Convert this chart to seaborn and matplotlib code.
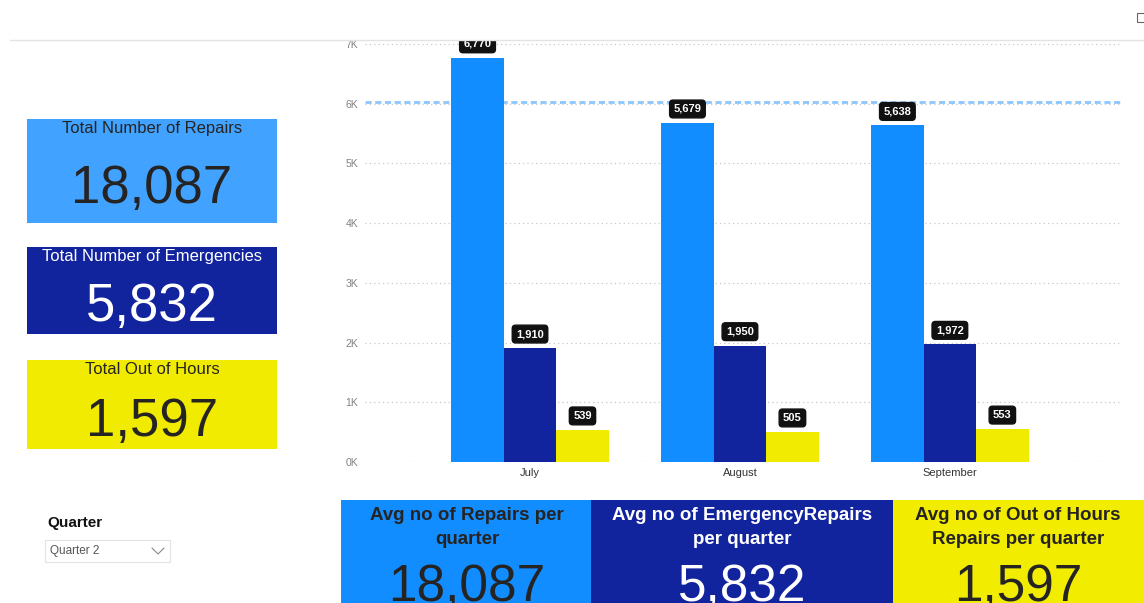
import matplotlib
matplotlib.use("Agg")
import matplotlib.pyplot as plt
from matplotlib.patches import Rectangle
from matplotlib.lines import Line2D
import seaborn as sns
import pandas as pd

# ---- data ----
months = ["July", "August", "September"]
series = ["Repairs", "Emergencies", "Out of Hours"]
repairs = [6770, 5679, 5638]
emergencies = [1910, 1950, 1972]
out_of_hours = [539, 505, 553]
y_ticks = [0, 1000, 2000, 3000, 4000, 5000, 6000, 7000]
y_tick_labels = ["0K", "1K", "2K", "3K", "4K", "5K", "6K", "7K"]

kpi_titles = ["Total Number of Repairs", "Total Number of Emergencies", "Total Out of Hours"]
kpi_values = ["18,087", "5,832", "1,597"]
avg_titles = ["Avg no of Repairs per\nquarter", "Avg no of EmergencyRepairs\nper quarter",
              "Avg no of Out of Hours\nRepairs per quarter"]
avg_values = ["18,087", "5,832", "1,597"]
slicer_title = "Quarter"
slicer_value = "Quarter 2"

C_BLUE = "#118DFF"
C_LBLUE = "#41A2FF"
C_DARK = "#12239E"
C_YEL = "#F0EB00"

sns.set_theme(style="white")
plt.rcParams["font.family"] = ["Liberation Sans", "DejaVu Sans"]

W, H = 1144, 603
fig = plt.figure(figsize=(W / 100, H / 100), dpi=100)
fig.patch.set_facecolor("white")


def fx(x):
    return x / W


def fy(y):
    return 1 - y / H


# ---- main chart ----
ax_l, ax_r, ax_t, ax_b = 365, 1122, 41, 462
ax = fig.add_axes([fx(ax_l), fy(ax_b), (ax_r - ax_l) / W, (ax_b - ax_t) / H])

df = pd.DataFrame({
    "Month": months * 3,
    "Type": [series[0]] * 3 + [series[1]] * 3 + [series[2]] * 3,
    "Value": repairs + emergencies + out_of_hours,
})
sns.barplot(data=df, x="Month", y="Value", hue="Type", order=months, hue_order=series,
            palette=[C_BLUE, C_DARK, C_YEL], saturation=1, width=0.75, legend=False,
            ax=ax, errorbar=None, linewidth=0, zorder=3)

ax.set_xlim(-0.786, 2.82)
ax.set_ylim(0, 7050)
ax.set_yticks(y_ticks)
ax.set_yticklabels(y_tick_labels)
ax.set_xlabel("")
ax.set_ylabel("")
for s in ax.spines.values():
    s.set_visible(False)
ax.tick_params(axis="y", length=0, pad=5, labelsize=7.5, labelcolor="#808080")
ax.tick_params(axis="x", length=0, pad=4, labelsize=8, labelcolor="#333333")
ax.yaxis.grid(True, linestyle=(0, (1, 2.5)), color="#c8c8c8", linewidth=0.9)
ax.set_axisbelow(True)
ax.set_facecolor("white")

# average line
avg_line = sum(repairs) / len(repairs)
ax.axhline(avg_line, color="#8CC6FF", linewidth=2.0, linestyle=(0, (2.2, 1.3)), zorder=2)

# data labels
all_vals = [repairs, emergencies, out_of_hours]
for cont, vals in zip(ax.containers, all_vals):
    for bar, v in zip(cont, vals):
        ax.annotate(f"{v:,}", (bar.get_x() + bar.get_width() / 2, bar.get_height()),
                    xytext=(0, 10), textcoords="offset points", ha="center", va="center",
                    fontsize=8, color="white", fontweight="bold", annotation_clip=False,
                    zorder=5,
                    bbox=dict(boxstyle="round,pad=0.35,rounding_size=0.3", fc="#111111", ec="#111111"))

# top white band and separator line
fig.patches.append(Rectangle((0, fy(40)), 1, 1 - fy(40), transform=fig.transFigure,
                             facecolor="white", edgecolor="none", zorder=10))
fig.add_artist(Line2D([fx(10), 1], [fy(40), fy(40)], color="#e3e3e3", linewidth=1, zorder=11))

# ---- left KPI cards ----
cards = [
    (119, 223, C_LBLUE, "#252423", 129, 189),
    (247, 334, C_DARK, "white", 257, 307),
    (360, 449, C_YEL, "#252423", 370, 422),
]
for (top, bot, col, tcol, ty, vy), title, val in zip(cards, kpi_titles, kpi_values):
    fig.patches.append(Rectangle((fx(27), fy(bot)), (277 - 27) / W, (bot - top) / H,
                                 transform=fig.transFigure, facecolor=col, edgecolor="none", zorder=1))
    fig.text(fx(152), fy(ty), title, ha="center", va="center", fontsize=12, color=tcol, zorder=2)
    fig.text(fx(152), fy(vy), val, ha="center", va="center", fontsize=38, color=tcol, zorder=2)

# ---- bottom cards ----
bcards = [(341, 591, C_BLUE, "#252423", 467), (591, 893, C_DARK, "white", 742),
          (893, 1144, "#F2EC00", "#252423", 1018)]
for (l, r, col, tcol, cx), title, val in zip(bcards, avg_titles, avg_values):
    fig.patches.append(Rectangle((fx(l), 0), (r - l) / W, fy(500), transform=fig.transFigure,
                                 facecolor=col, edgecolor="none", zorder=1))
    fig.text(fx(cx), fy(527.5), title, ha="center", va="center", fontsize=13.5,
             fontweight="bold", color=tcol, linespacing=1.55, zorder=2)
    fig.text(fx(cx), fy(601), val, ha="center", va="baseline", fontsize=37, color=tcol, zorder=2)

# ---- slicer ----
fig.text(fx(47), fy(523), slicer_title, ha="left", va="center", fontsize=11,
         fontweight="bold", color="#111111")
fig.patches.append(Rectangle((fx(45), fy(562)), (170 - 45) / W, (562 - 540) / H,
                             transform=fig.transFigure, facecolor="white",
                             edgecolor="#e2e2e2", linewidth=0.8))
fig.text(fx(50), fy(551), slicer_value, ha="left", va="center", fontsize=8.5, color="#555555")
fig.add_artist(Line2D([fx(152), fx(158), fx(164)], [fy(548), fy(554), fy(548)],
                      color="#888888", linewidth=0.8))

# small expand icon top-right
fig.patches.append(Rectangle((fx(1137), fy(22)), 8 / W, 9 / H, transform=fig.transFigure,
                             facecolor="none", edgecolor="#666666", linewidth=0.8, zorder=12))

fig.savefig("out.png", dpi=100, facecolor="white")
